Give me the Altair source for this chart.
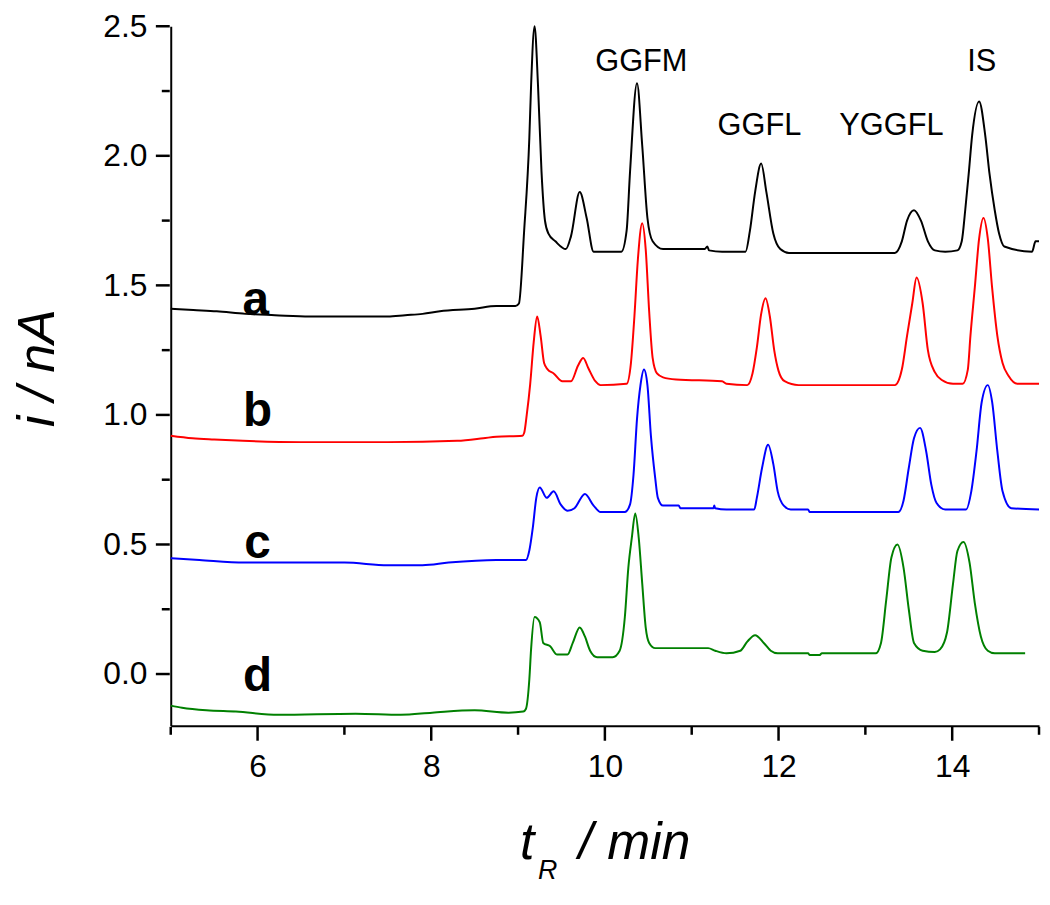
import altair as alt
import pandas as pd

# ---- trace a (black) ----
a_x = [5.0, 5.26, 5.53, 5.86, 6.2, 6.6, 7.0, 7.5, 7.7, 7.9, 8.1, 8.5, 8.75, 8.97, 9.01, 9.07, 9.13, 9.15, 9.19, 9.23,
       9.27, 9.31, 9.35, 9.43, 9.55, 9.61, 9.71, 9.79, 9.87, 9.95, 10.19, 10.25, 10.29, 10.37, 10.43, 10.49, 10.55, 10.67,
       11.15, 11.18, 11.20, 11.35, 11.62, 11.67, 11.73, 11.80, 11.86, 11.94, 12.02, 12.12, 13.34, 13.42, 13.48, 13.56,
       13.64, 13.72, 13.80, 13.92, 14.06, 14.11, 14.15, 14.19, 14.23, 14.31, 14.38, 14.43, 14.49, 14.54, 14.60, 14.92,
       14.96, 15.0]
a_y = [1.41, 1.405, 1.40, 1.39, 1.385, 1.38, 1.38, 1.38, 1.385, 1.39, 1.40, 1.41, 1.42, 1.42, 1.43, 1.71, 2.07, 2.27, 2.50, 2.27,
       1.94, 1.75, 1.70, 1.67, 1.64, 1.69, 1.86, 1.76, 1.63, 1.63, 1.63, 1.71, 1.94, 2.28, 2.04, 1.76, 1.67, 1.64,
       1.64, 1.65, 1.635, 1.63, 1.63, 1.71, 1.86, 1.97, 1.86, 1.70, 1.64, 1.625, 1.625, 1.67, 1.75, 1.79,
       1.75, 1.67, 1.635, 1.63, 1.635, 1.67, 1.79, 1.93, 2.08, 2.21, 2.08, 1.93, 1.79, 1.70, 1.65, 1.63,
       1.67, 1.67]

# ---- trace b (red) ----
b_x = [5.0, 5.25, 5.5, 5.83, 6.5, 7.5, 8.3, 8.6, 8.75, 9.05, 9.07, 9.10, 9.14, 9.18, 9.22, 9.26, 9.30, 9.34, 9.41, 9.51,
       9.61, 9.69, 9.75, 9.81, 9.89, 9.95, 10.25, 10.30, 10.34, 10.38, 10.43, 10.47, 10.51, 10.55, 10.60, 10.67,
       10.82, 11.35, 11.40, 11.64, 11.70, 11.75, 11.80, 11.85, 11.90, 11.95, 12.00, 12.07, 12.23, 13.34, 13.42, 13.48,
       13.54, 13.59, 13.66, 13.72, 13.80, 13.88, 14.01, 14.12, 14.18, 14.21, 14.26, 14.31, 14.36, 14.41, 14.46, 14.52,
       14.58, 14.65, 14.75, 15.0]
b_y = [0.92, 0.91, 0.905, 0.90, 0.895, 0.895, 0.90, 0.91, 0.916, 0.92, 0.93, 1.0, 1.12, 1.28, 1.38, 1.305, 1.20, 1.176, 1.16, 1.13,
       1.13, 1.19, 1.22, 1.18, 1.13, 1.115, 1.12, 1.20, 1.38, 1.60, 1.74, 1.64, 1.40, 1.22, 1.16, 1.145,
       1.137, 1.13, 1.12, 1.115, 1.16, 1.26, 1.39, 1.45, 1.38, 1.25, 1.17, 1.13, 1.115, 1.115, 1.175, 1.305,
       1.43, 1.53, 1.43, 1.25, 1.165, 1.135, 1.12, 1.12, 1.175, 1.305, 1.49, 1.68, 1.76, 1.68, 1.49, 1.305,
       1.20, 1.15, 1.12, 1.12]

# ---- trace c (blue) ----
c_x = [5.0, 5.33, 5.85, 6.5, 7.0, 7.5, 7.9, 8.2, 8.75, 9.09, 9.13, 9.17, 9.21, 9.25, 9.33, 9.41, 9.49, 9.57, 9.65, 9.77,
       9.87, 9.95, 10.23, 10.29, 10.33, 10.37, 10.41, 10.45, 10.49, 10.53, 10.58, 10.61, 10.67, 10.85, 10.87, 11.25,
       11.26, 11.27, 11.40, 11.72, 11.75, 11.81, 11.88, 11.94, 11.99, 12.06, 12.14, 12.34, 12.36, 13.38, 13.44, 13.50,
       13.56, 13.63, 13.70, 13.76, 13.82, 13.92, 14.16, 14.22, 14.28, 14.34, 14.41, 14.46, 14.52, 14.58, 14.68, 15.0]
c_y = [0.447, 0.44, 0.43, 0.43, 0.43, 0.42, 0.42, 0.43, 0.44, 0.44, 0.477, 0.565, 0.68, 0.72, 0.68, 0.705, 0.655, 0.63, 0.64, 0.695,
       0.65, 0.625, 0.625, 0.655, 0.77, 0.985, 1.115, 1.175, 1.115, 0.92, 0.755, 0.68, 0.65, 0.65, 0.64, 0.64,
       0.65, 0.64, 0.635, 0.635, 0.68, 0.795, 0.885, 0.81, 0.705, 0.65, 0.635, 0.635, 0.625, 0.625, 0.67, 0.795,
       0.91, 0.95, 0.86, 0.73, 0.66, 0.635, 0.635, 0.705, 0.86, 1.05, 1.115, 1.05, 0.86, 0.705, 0.64, 0.635]

# ---- trace d (green) ----
d_x = [5.0, 5.13, 5.41, 5.75, 6.24, 7.13, 7.65, 8.01, 8.5, 8.89, 9.06, 9.09, 9.13, 9.15, 9.19, 9.25, 9.29, 9.37, 9.45, 9.57,
       9.63, 9.71, 9.77, 9.83, 9.91, 10.09, 10.17, 10.23, 10.27, 10.31, 10.35, 10.39, 10.43, 10.47, 10.51, 10.58,
       11.19, 11.27, 11.40, 11.56, 11.64, 11.73, 11.83, 11.91, 11.99, 12.34, 12.36, 12.47, 12.50, 13.12, 13.18, 13.24,
       13.30, 13.37, 13.44, 13.50, 13.56, 13.66, 13.80, 13.86, 13.94, 14.01, 14.06, 14.13, 14.20, 14.26, 14.33, 14.41,
       14.49, 14.84]
d_y = [-0.122, -0.13, -0.14, -0.145, -0.157, -0.153, -0.157, -0.149, -0.14, -0.149, -0.145, -0.135, -0.02, 0.095, 0.22, 0.20,
       0.12, 0.107, 0.075, 0.075, 0.12, 0.18, 0.145, 0.09, 0.065, 0.065, 0.09, 0.22, 0.41, 0.525, 0.62, 0.525, 0.35,
       0.18, 0.12, 0.10, 0.10, 0.09, 0.08, 0.09, 0.125, 0.15, 0.12, 0.09, 0.08, 0.08, 0.073, 0.073, 0.08, 0.08,
       0.12, 0.285, 0.45, 0.50, 0.41, 0.25, 0.12, 0.09, 0.085, 0.095, 0.16, 0.35, 0.475, 0.51, 0.43, 0.275, 0.145,
       0.09, 0.08, 0.08]

trace_names = ["a", "b", "c", "d"]
trace_colors = ["#000000", "#ff0000", "#0000ff", "#008000"]

# trace letter labels
letter_x = [5.98, 6.0, 6.0, 6.0]
letter_y = [1.44, 1.01, 0.50, -0.01]

# peak labels
peak_names = ["GGFM", "GGFL", "YGGFL", "IS"]
peak_x = [10.42, 11.78, 13.30, 14.34]
peak_y = [2.36, 2.115, 2.115, 2.36]

# axis ticks
x_major = [6, 8, 10, 12, 14]
x_minor = [5, 7, 9, 11, 13, 15]
y_major = [0.0, 0.5, 1.0, 1.5, 2.0, 2.5]
y_minor = [0.25, 0.75, 1.25, 1.75, 2.25]

FONT = "Liberation Sans"
W, H = 875, 705
MAJ, MIN = 14, 8

rows = []
for name, xs, ys in zip(trace_names, [a_x, b_x, c_x, d_x], [a_y, b_y, c_y, d_y]):
    assert len(xs) == len(ys), (name, len(xs), len(ys))
    for i, (xv, yv) in enumerate(zip(xs, ys)):
        rows.append({"trace": name, "t": xv, "i": yv, "idx": i})
df = pd.DataFrame(rows)

xscale = alt.Scale(domain=[5, 15], nice=False, zero=False)
yscale = alt.Scale(domain=[-0.2, 2.5], nice=False, zero=False)

x_axis = alt.Axis(
    values=x_major, format="d", ticks=False,
    title=None, grid=False,
    domainColor="black", domainWidth=2,
    labelFont=FONT, labelFontSize=32, labelColor="black", labelPadding=MAJ + 12,
    labelFlush=False, labelOverlap=False,
)
y_axis = alt.Axis(
    values=y_major, format=".1f", ticks=False,
    title="i / nA", grid=False,
    domainColor="black", domainWidth=2,
    labelFont=FONT, labelFontSize=32, labelColor="black", labelPadding=MAJ + 10,
    labelFlush=False, labelOverlap=False,
    titleFont=FONT, titleFontSize=52, titleFontStyle="italic", titleFontWeight="normal",
    titleColor="black", titleAngle=270, titleX=-134, titleY=344,
    titleAlign="center", titleBaseline="middle",
)

lines = alt.Chart(df).mark_line(strokeWidth=2, interpolate="monotone").encode(
    x=alt.X("t:Q", scale=xscale, axis=x_axis),
    y=alt.Y("i:Q", scale=yscale, axis=y_axis),
    color=alt.Color("trace:N", scale=alt.Scale(domain=trace_names, range=trace_colors), legend=None),
    detail="trace:N",
    order="idx:Q",
)

# tick marks as small bars just outside the axis lines (positions through the scales)
tick_x_major = alt.Chart(pd.DataFrame({"m": x_major})).mark_tick(
    color="black", orient="vertical", size=MAJ, thickness=2.5, opacity=1, yOffset=MAJ / 2 + 1
).encode(x=alt.X("m:Q", scale=xscale), y=alt.value(H))
tick_x_minor = alt.Chart(pd.DataFrame({"m": x_minor})).mark_tick(
    color="black", orient="vertical", size=MIN, thickness=2.5, opacity=1, yOffset=MIN / 2 + 1
).encode(x=alt.X("m:Q", scale=xscale), y=alt.value(H))
tick_y_major = alt.Chart(pd.DataFrame({"m": y_major})).mark_tick(
    color="black", orient="horizontal", size=MAJ, thickness=2.5, opacity=1, xOffset=-(MAJ / 2 + 1)
).encode(y=alt.Y("m:Q", scale=yscale), x=alt.value(0))
tick_y_minor = alt.Chart(pd.DataFrame({"m": y_minor})).mark_tick(
    color="black", orient="horizontal", size=MIN, thickness=2.5, opacity=1, xOffset=-(MIN / 2 + 1)
).encode(y=alt.Y("m:Q", scale=yscale), x=alt.value(0))

letters = alt.Chart(pd.DataFrame({"lab": trace_names, "x": letter_x, "y": letter_y})).mark_text(
    font=FONT, fontSize=48, fontWeight="bold", color="black", align="center", baseline="middle"
).encode(x=alt.X("x:Q", scale=xscale), y=alt.Y("y:Q", scale=yscale), text="lab:N")

peaks = alt.Chart(pd.DataFrame({"lab": peak_names, "x": peak_x, "y": peak_y})).mark_text(
    font=FONT, fontSize=31, color="black", align="center", baseline="middle"
).encode(x=alt.X("x:Q", scale=xscale), y=alt.Y("y:Q", scale=yscale), text="lab:N")

# x-axis title with subscript
xt_t = alt.Chart(pd.DataFrame({"s": ["t"]})).mark_text(
    font=FONT, fontSize=52, fontStyle="italic", color="black", align="left", baseline="alphabetic"
).encode(x=alt.value(352), y=alt.value(H + 134), text="s:N")
xt_r = alt.Chart(pd.DataFrame({"s": ["R"]})).mark_text(
    font=FONT, fontSize=27, fontStyle="italic", color="black", align="left", baseline="alphabetic"
).encode(x=alt.value(370), y=alt.value(H + 154), text="s:N")
xt_rest = alt.Chart(pd.DataFrame({"s": ["/ min"]})).mark_text(
    font=FONT, fontSize=52, fontStyle="italic", color="black", align="left", baseline="alphabetic"
).encode(x=alt.value(411), y=alt.value(H + 134), text="s:N")

chart = alt.layer(
    lines, tick_x_major, tick_x_minor, tick_y_major, tick_y_minor, letters, peaks, xt_t, xt_r, xt_rest
).properties(
    width=W, height=H,
    autosize=alt.AutoSizeParams(type="none"),
    padding={"left": 164, "top": 15, "right": 3, "bottom": 160},
).configure_view(stroke=None)

chart.save("out.html", embed_options={"renderer": "svg", "actions": False})
